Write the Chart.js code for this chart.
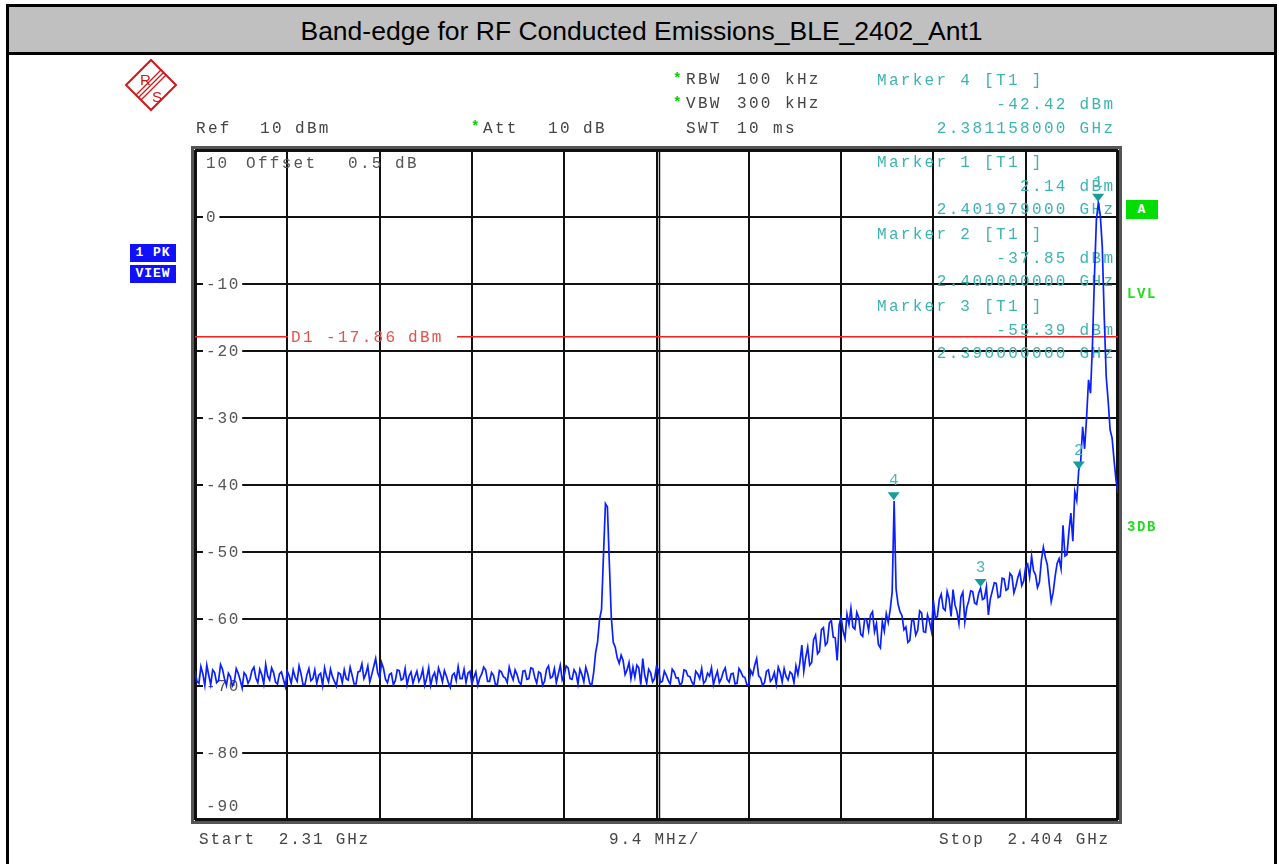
<!DOCTYPE html>
<html>
<head>
<meta charset="utf-8">
<title>Band-edge BLE 2402 Ant1</title>
<script src="https://cdn.jsdelivr.net/npm/chart.js@4.4.1/dist/chart.umd.min.js"></script>
<style>
  body { margin: 0; background: #fff; width: 1279px; height: 864px; overflow: hidden; position: relative; font-family: "Liberation Mono", "Courier New", monospace; }
  canvas { position: absolute; left: 0; top: 0; }
  #marco { position: absolute; left: 6px; top: 4px; width: 1265px; height: 880px; border: 3px solid #000; border-bottom: none; }
  #titulo { position: absolute; left: 0; top: 0; width: 100%; height: 45px; background: #c0c0c0; border-bottom: 3px solid #000;
            font-family: "Liberation Sans", Arial, sans-serif; font-size: 26.5px; line-height: 48px; text-align: center; color: #000; }
  .t { position: absolute; font-size: 16px; letter-spacing: 2.3px; line-height: 18px; white-space: pre; color: #444; }
  .pie { letter-spacing: 1.8px; }
  .teal { color: #3cb4b0; }
  .star { color: #00d000; font-weight: bold; font-size: 14px; letter-spacing: 0; }
  .caja { position: absolute; color: #fff; font-weight: bold; font-size: 13px; line-height: 19px; text-align: center; letter-spacing: 1px; }
  .verde { color: #22dd22; font-weight: bold; font-size: 14px; letter-spacing: 1.6px; }
</style>
</head>
<body>
<canvas id="grafico" width="1279" height="864"></canvas>
<div id="marco"><div id="titulo">Band-edge for RF Conducted Emissions_BLE_2402_Ant1</div></div>
<svg style="position:absolute;left:124px;top:58px" width="54" height="54" viewBox="0 0 54 54">
  <polygon points="27,2 52,27 27,52 2,27" fill="none" stroke="#d01818" stroke-width="2"/>
  <line x1="37" y1="12" x2="12" y2="37" stroke="#d01818" stroke-width="1.2"/>
  <line x1="39.5" y1="14.5" x2="14.5" y2="39.5" stroke="#d01818" stroke-width="1.2"/>
  <line x1="42" y1="17" x2="17" y2="42" stroke="#d01818" stroke-width="1.2"/>
  <text x="16" y="27" font-family="Liberation Sans" font-size="15" fill="#d01818">R</text>
  <text x="28" y="44" font-family="Liberation Sans" font-size="15" fill="#d01818">S</text>
</svg>
<div id="textos"></div>

<script>
// Barrido del analizador: 2.31 GHz a 2.404 GHz, un punto cada 0.2 MHz
const inicioGHz = 2.31;
const pasoGHz = 0.0002;
const niveles = [
  -67.8, -69.3, -69.6, -67.1, -68.2, -69.9, -66.9, -68.4, -69.8, -67.6,
  -68.0, -69.5, -69.2, -66.8, -67.5, -68.9, -69.9, -68.1, -68.6, -70.0,
  -69.4, -67.4, -68.1, -69.1, -70.3, -68.0, -68.4, -69.6, -69.0, -67.7,
  -67.2, -68.8, -69.5, -67.5, -68.3, -69.7, -66.8, -68.5, -69.1, -67.3,
  -68.0, -69.4, -69.7, -68.2, -67.9, -69.0, -70.1, -67.8, -68.5, -69.6,
  -67.6, -68.7, -69.3, -67.0, -68.2, -69.8, -69.8, -68.3, -67.4, -69.2,
  -68.9, -67.6, -69.6, -68.4, -68.1, -69.9, -67.3, -68.6, -69.4, -67.5,
  -68.6, -69.3, -70.0, -68.0, -68.2, -69.5, -67.6, -68.9, -69.1, -67.2,
  -68.4, -69.7, -69.7, -67.9, -67.8, -66.7, -68.9, -68.2, -67.0, -69.4,
  -68.3, -67.1, -65.9, -68.0, -68.8, -66.5, -67.4, -69.0, -69.5, -68.3,
  -68.1, -69.8, -69.2, -67.6, -67.7, -69.1, -68.9, -67.4, -69.8, -68.5,
  -67.9, -69.6, -68.6, -67.8, -69.3, -68.7, -67.5, -69.9, -68.8, -67.3,
  -69.9, -68.6, -68.0, -69.4, -67.3, -68.2, -69.4, -67.7, -68.5, -69.5,
  -70.2, -68.4, -68.1, -69.2, -67.1, -68.9, -68.9, -67.5, -69.5, -68.1,
  -67.8, -69.7, -68.7, -67.9, -69.9, -68.8, -68.2, -67.2, -67.6, -69.3,
  -69.3, -68.0, -68.4, -69.8, -69.7, -67.7, -67.9, -68.6, -68.8, -69.5,
  -67.2, -68.3, -69.1, -67.6, -68.3, -69.4, -69.8, -67.8, -67.7, -69.0,
  -68.9, -67.3, -67.4, -68.7, -69.6, -67.9, -68.1, -69.9, -69.3, -67.5,
  -67.0, -68.8, -68.6, -67.4, -69.5, -68.2, -66.9, -69.1, -68.4, -67.0,
  -67.3, -68.9, -69.0, -67.6, -68.1, -69.7, -67.5, -68.3, -69.4, -67.2,
  -68.2, -69.6, -69.9, -68.0, -65.0, -63.4, -60.0, -58.6, -50.5, -42.8,
  -43.3, -51.8, -59.8, -63.5, -64.2, -65.8, -66.6, -65.4, -66.2, -68.3,
  -67.6, -66.5, -68.9, -67.2, -68.7, -66.9, -67.3, -69.8, -65.9, -68.4,
  -69.6, -67.5, -68.0, -69.4, -68.9, -67.1, -67.6, -69.5, -69.3, -67.8,
  -68.4, -69.2, -69.7, -67.5, -67.9, -68.8, -68.8, -69.9, -69.5, -67.6,
  -67.7, -68.5, -68.6, -69.4, -69.9, -67.8, -68.2, -68.9, -67.4, -69.6,
  -69.2, -68.1, -68.5, -67.3, -69.8, -68.7, -67.8, -69.5, -68.9, -67.9,
  -67.3, -69.0, -69.4, -68.2, -68.1, -69.7, -69.6, -67.4, -67.9, -68.6,
  -68.7, -69.8, -69.8, -67.7, -68.3, -66.9, -65.9, -68.5, -68.8, -69.9,
  -69.5, -67.8, -67.6, -69.3, -68.9, -68.0, -69.7, -67.2, -68.0, -69.4,
  -67.4, -68.6, -69.1, -67.9, -68.2, -69.5, -67.0, -68.3, -66.5, -63.9,
  -67.8, -65.7, -64.2, -66.9, -66.5, -63.1, -62.4, -65.2, -64.8, -61.6,
  -61.3, -63.9, -63.5, -60.6, -60.2, -62.7, -62.8, -66.2, -60.9, -59.7,
  -61.8, -62.9, -59.3, -60.8, -58.4, -61.2, -61.5, -59.0, -59.8, -62.3,
  -62.6, -60.0, -60.1, -61.7, -59.4, -58.9, -61.9, -60.7, -63.8, -64.3,
  -60.4, -61.8, -59.2, -60.5, -58.6, -56.0, -42.4, -55.5, -57.8, -58.9,
  -59.5, -61.6, -61.2, -63.5, -63.2, -60.1, -60.3, -62.4, -61.7, -58.8,
  -59.1, -61.9, -62.0, -59.4, -60.4, -61.8, -57.2, -59.9, -59.6, -57.1,
  -56.3, -58.4, -58.7, -55.9, -57.0, -59.6, -55.6, -57.9, -58.9, -60.7,
  -56.7, -56.0, -60.4, -58.3, -57.3, -55.8, -55.9, -57.6, -57.8, -56.2,
  -55.4, -57.1, -56.9, -55.2, -59.4, -57.0, -55.8, -54.6, -54.7, -56.8,
  -56.6, -53.9, -54.0, -55.7, -55.5, -53.2, -53.6, -56.1, -55.1, -53.8,
  -52.9, -55.0, -54.3, -52.2, -51.8, -53.7, -50.6, -52.8, -53.4, -55.3,
  -54.5, -51.2, -49.3, -50.8, -51.9, -54.8, -57.4, -56.0, -53.6, -51.7,
  -51.0, -52.5, -46.0, -50.6, -50.4, -47.0, -44.2, -48.4, -41.0, -42.3,
  -37.8, -36.5, -31.3, -34.6, -29.9, -24.3, -26.3, -19.0, -9.0, -0.4,
  2.14, 0.2, -4.5, -15.0, -23.8, -27.5, -31.8, -33.0, -36.3, -39.3,
  -41.2
];

// Rejilla: 10 divisiones de 9.4 MHz
const rejillaGHz = [2.31, 2.3194, 2.3288, 2.3382, 2.3476, 2.357, 2.3664, 2.3758, 2.3852, 2.3946, 2.404];
const etiquetasY = [10, 0, -10, -20, -30, -40, -50, -60, -70, -80, -90];

// Marcadores
const marcadorNombres = ['1', '2', '3', '4'];
const marcadorGHz = [2.401979, 2.40, 2.39, 2.381158];
const marcadorDBm = [2.14, -37.85, -55.39, -42.42];

// Linea D1
const lineaD1 = -17.86;

const etiquetasEjeX = ['Start  2.31 GHz', '9.4 MHz/', 'Stop  2.404 GHz'];

function textoMarcador(k) {
  return [
    'Marker ' + marcadorNombres[k] + ' [T1 ]',
    marcadorDBm[k].toFixed(2) + ' dBm',
    marcadorGHz[k].toFixed(9) + ' GHz'
  ];
}

// Textos de cabecera (HTML)
const cont = document.getElementById('textos');
function poner(txt, x, cy, cls, derecha) {
  const d = document.createElement('div');
  d.className = 't ' + (cls || '');
  d.textContent = txt;
  d.style.top = (cy - 9) + 'px';
  if (derecha) d.style.right = (1279 - x - 2.3) + 'px';
  else d.style.left = x + 'px';
  cont.appendChild(d);
}
poner('Ref', 196, 129); poner('10', 260, 129); poner('dBm', 295, 129);
poner('*', 471, 127, 'star'); poner('Att', 483, 129); poner('10', 548, 129); poner('dB', 583, 129);
poner('*', 673, 79, 'star'); poner('RBW', 686, 80); poner('100', 737, 80); poner('kHz', 785, 80);
poner('*', 673, 103, 'star'); poner('VBW', 686, 104); poner('300', 737, 104); poner('kHz', 785, 104);
poner('SWT', 686, 129); poner('10', 737, 129); poner('ms', 773, 129);
const m4 = textoMarcador(3);
poner(m4[0], 877, 81, 'teal');
poner(m4[1], 1113, 105, 'teal', true);
poner(m4[2], 1113, 129, 'teal', true);
poner(etiquetasEjeX[0], 199, 840, 'pie');
poner(etiquetasEjeX[1], 609, 840, 'pie');
poner(etiquetasEjeX[2], 939, 840, 'pie');
poner('LVL', 1127, 294, 'verde');
poner('3DB', 1127, 527, 'verde');

function caja(txt, x, y, w, h, color) {
  const d = document.createElement('div');
  d.className = 'caja';
  d.textContent = txt;
  Object.assign(d.style, { left: x + 'px', top: y + 'px', width: w + 'px', height: h + 'px', lineHeight: h + 'px', background: color });
  cont.appendChild(d);
}
caja('1 PK', 130, 244, 46, 18, '#1010ff');
caja('VIEW', 130, 265, 46, 18, '#1010ff');
caja('A', 1126, 200, 32, 19, '#00dd00');

// Decoracion dentro del area de trazado
const decoracion = {
  id: 'decoracion',
  beforeDatasetsDraw(chart) {
    const { ctx, chartArea: a, scales: { x, y } } = chart;
    ctx.save();

    // linea central doble
    const xc = x.getPixelForValue(rejillaGHz[5]);
    ctx.strokeStyle = '#111';
    ctx.lineWidth = 1.5;
    ctx.beginPath(); ctx.moveTo(xc + 3, a.top); ctx.lineTo(xc + 3, a.bottom); ctx.stroke();

    // marco doble
    ctx.strokeStyle = '#555';
    ctx.lineWidth = 3;
    ctx.strokeRect(a.left - 2.5, a.top - 2.5, a.right - a.left + 5, a.bottom - a.top + 5);
    ctx.strokeStyle = '#111';
    ctx.lineWidth = 1;
    ctx.strokeRect(a.left + 1.5, a.top + 1.5, a.right - a.left - 3, a.bottom - a.top - 3);

    // etiquetas del eje Y dentro del grafico
    ctx.font = '16px "Liberation Mono", monospace';
    ctx.letterSpacing = '1.8px';
    ctx.textBaseline = 'middle';
    ctx.textAlign = 'left';
    etiquetasY.forEach(v => {
      let cy = y.getPixelForValue(v);
      if (v === etiquetasY[0]) cy = a.top + 13;
      if (v === etiquetasY[etiquetasY.length - 1]) cy = a.bottom - 14;
      const txt = String(v);
      const w = ctx.measureText(txt).width;
      ctx.fillStyle = '#fff';
      ctx.fillRect(a.left + 8, cy - 7, w + 5, 14);
      ctx.fillStyle = '#555';
      ctx.fillText(txt, a.left + 11, cy + 1);
    });
    ctx.letterSpacing = '2.3px';
    ctx.fillStyle = '#555';
    ctx.fillText('Offset', 246, a.top + 14);
    ctx.fillText('0.5', 348, a.top + 14);
    ctx.fillText('dB', 395, a.top + 14);

    // linea D1
    const yd = y.getPixelForValue(lineaD1);
    ctx.strokeStyle = '#ff1c1c';
    ctx.lineWidth = 1.5;
    ctx.beginPath();
    ctx.moveTo(a.left, yd); ctx.lineTo(288, yd);
    ctx.moveTo(457, yd); ctx.lineTo(a.right, yd);
    ctx.stroke();
    ctx.fillStyle = '#e8504a';
    ctx.fillText('D1', 291, yd + 1);
    ctx.fillText(lineaD1.toFixed(2), 326, yd + 1);
    ctx.fillText('dBm', 408, yd + 1);

    // cuadros de texto de los marcadores 1 a 3
    ctx.fillStyle = '#3cb4b0';
    for (let k = 0; k < 3; k++) {
      const lin = textoMarcador(k);
      const y0 = 162 + k * 72;
      ctx.textAlign = 'left';
      ctx.fillText(lin[0], 877, y0 + 1);
      ctx.textAlign = 'right';
      ctx.fillText(lin[1], 1115.3, y0 + 25);
      ctx.fillText(lin[2], 1115.3, y0 + 48);
    }
    ctx.restore();
  },
  afterDatasetsDraw(chart) {
    const { ctx, scales: { x, y } } = chart;
    ctx.save();
    ctx.font = '16px "Liberation Mono", monospace';
    ctx.textAlign = 'center';
    ctx.textBaseline = 'middle';
    marcadorGHz.forEach((f, k) => {
      const px = x.getPixelForValue(f);
      const py = y.getPixelForValue(marcadorDBm[k]) - 1;
      ctx.fillStyle = '#179e9a';
      ctx.beginPath();
      ctx.moveTo(px - 6, py - 8); ctx.lineTo(px + 6, py - 8); ctx.lineTo(px, py);
      ctx.closePath(); ctx.fill();
      ctx.fillStyle = '#48b8b4';
      ctx.fillText(marcadorNombres[k], px, py - 19);
    });
    ctx.restore();
  }
};

const ctx = document.getElementById('grafico').getContext('2d');
const datosTraza = niveles.map((v, i) => ({ x: inicioGHz + i * pasoGHz, y: v }));

new Chart(ctx, {
  type: 'line',
  data: {
    datasets: [{
      label: 'Trace 1',
      data: datosTraza,
      borderColor: '#0b20ff',
      borderWidth: 1.7,
      pointRadius: 0,
      tension: 0,
      fill: false
    }]
  },
  options: {
    responsive: false,
    animation: false,
    layout: { padding: { left: 195, top: 150, right: 161, bottom: 44 } },
    plugins: { legend: { display: false }, tooltip: { enabled: false } },
    scales: {
      x: {
        type: 'linear', min: 2.31, max: 2.404,
        afterBuildTicks: s => { s.ticks = rejillaGHz.map(v => ({ value: v })); },
        ticks: { display: false },
        grid: { color: '#111', lineWidth: 2, drawTicks: false },
        border: { display: false }
      },
      y: {
        min: -90, max: 10,
        afterBuildTicks: s => { s.ticks = etiquetasY.map(v => ({ value: v })); },
        ticks: { display: false },
        grid: { color: '#111', lineWidth: 2, drawTicks: false },
        border: { display: false }
      }
    }
  },
  plugins: [decoracion]
});
</script>
</body>
</html>
